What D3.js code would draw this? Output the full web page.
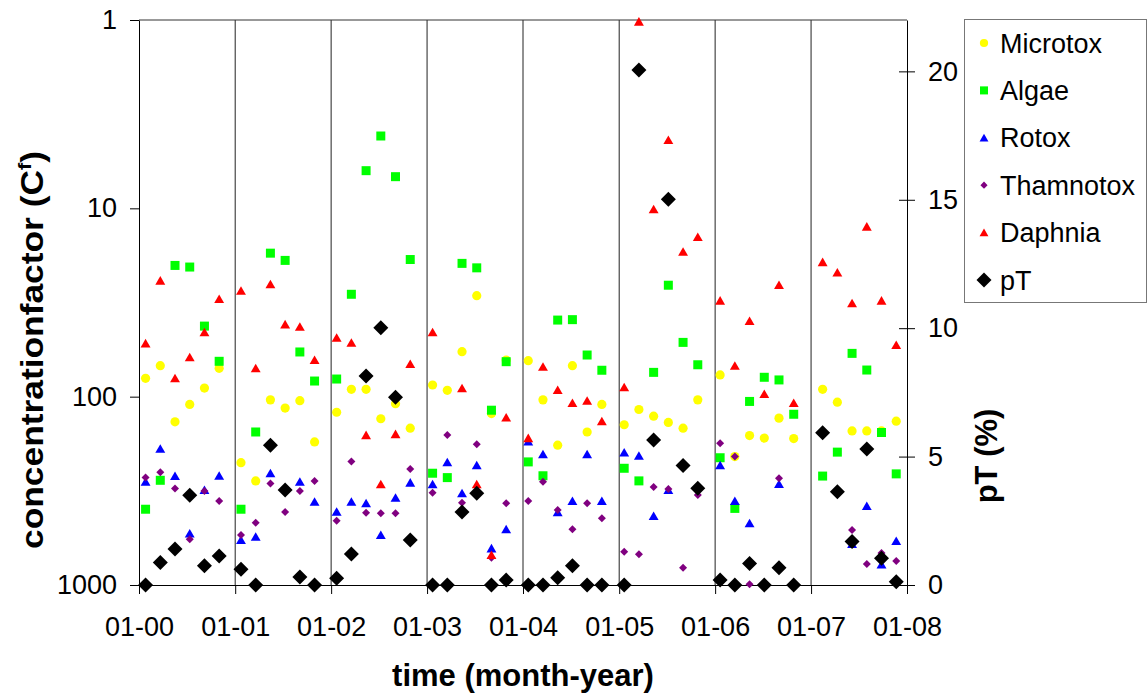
<!DOCTYPE html>
<html>
<head>
<meta charset="utf-8">
<script src="https://cdn.jsdelivr.net/npm/d3@7"></script>
<style>
  html, body { margin: 0; padding: 0; background: #fff; }
  svg { display: block; font-family: "Liberation Sans", Arial, Helvetica, sans-serif; }
</style>
</head>
<body>
<svg id="chart" width="1147" height="693"></svg>
<script>
// Sampling dates: six samples a year, eight weeks apart
const sampleDates = [
  "2000-01-26","2000-03-22","2000-05-17","2000-07-12","2000-09-06","2000-11-01",
  "2001-01-23","2001-03-20","2001-05-15","2001-07-10","2001-09-04","2001-10-30",
  "2002-01-22","2002-03-19","2002-05-14","2002-07-09","2002-09-03","2002-10-29",
  "2003-01-22","2003-03-19","2003-05-14","2003-07-09","2003-09-03","2003-10-29",
  "2004-01-21","2004-03-17","2004-05-12","2004-07-07","2004-09-01","2004-10-27",
  "2005-01-20","2005-03-17","2005-05-12","2005-07-07","2005-09-01","2005-10-27",
  "2006-01-20","2006-03-17","2006-05-12","2006-07-07","2006-09-01","2006-10-27",
  "2007-02-14","2007-04-11","2007-06-06","2007-08-01","2007-09-26","2007-11-21"
];

// Concentration factors (Cf) per bioassay, one value per sampling date
const microtox = [
  79.9, 68.5, 136, 110, 90, 70.7,
  224, 280, 104, 115, 105, 174,
  121, 91.4, 91.4, 131, 109, 147,
  86.7, 92.5, 57.7, 29.1, 123, 63.9,
  64.4, 104, 181, 68.5, 154, 110,
  141, 117, 127, 137, 147, 104,
  76.7, 208, 161, 166, 130, 167,
  91.4, 107, 152, 152, 152, 135
];
const algae = [
  396, 278, 20.1, 20.5, 42.2, 64.9,
  396, 154, 17.3, 18.9, 57.9, 82.6,
  80.6, 28.6, 6.31, 4.13, 6.79, 18.7,
  255, 269, 19.6, 20.7, 118, 65.2,
  222, 263, 39.2, 39.0, 60.1, 72.4,
  240, 280, 74.3, 25.6, 51.5, 67.7,
  211, 392, 106, 78.9, 81.5, 124,
  264, 197, 58.9, 72.2, 155, 257
];
const rotox = [
  283, 189, 264, 532, 313, 263,
  577, 554, 255, null, 283, 361,
  408, 361, 368, 543, 344, 286,
  292, 223, 326, 231, 639, 506,
  173, 202, 411, 358, 202, 358,
  198, 206, 430, 313, null, null,
  231, 358, 470, null, 291, null,
  null, null, 606, 381, 777, 584
];
const thamnotox = [
  269, 252, 307, 572, 317, 358,
  543, 467, 289, 410, 317, 280,
  456, 221, 413, 416, 416, 242,
  324, 160, 366, 179, 716, 368,
  358, 283, 400, 506, 368, 442,
  666, 687, 302, 309, 810, 333,
  177, 208, 992, null, 271, null,
  null, null, 511, 774, 676, 746
];
const daphnia = [
  52.1, 24.2, 79.9, 61.8, 45.5, 30.3,
  27.4, 70.7, 25.3, 41.3, 42.5, 63.9,
  48.6, 51.7, 160, 292, 158, 67.1,
  45.5, null, 90.3, 292, 693, 129,
  166, 69.3, 92.2, 108, 105, 135,
  89.2, 1.02, 10.1, 4.34, 17.0, 14.2,
  30.9, 68.5, 39.6, 96.8, 25.5, 108,
  19.3, 21.9, 31.9, 12.5, 30.9, 53.2
];
// pT (%) on the secondary axis
const pT = [
  0, 0.88, 1.40, 3.49, 0.75, 1.13,
  0.61, 0, 5.44, 3.70, 0.31, 0,
  0.26, 1.21, 8.14, 10.02, 7.31, 1.75,
  0, 0, 2.84, 3.57, 0, 0.19,
  0, 0, 0.28, 0.75, 0, 0,
  0, 20.05, 5.65, 15.02, 4.65, 3.77,
  0.19, 0, 0.84, 0, 0.67, 0,
  5.93, 3.63, 1.69, 5.30, 1.04, 0.13
];

const seriesNames = ["Microtox", "Algae", "Rotox", "Thamnotox", "Daphnia", "pT"];
const xTickLabels = ["01-00","01-01","01-02","01-03","01-04","01-05","01-06","01-07","01-08"];
const cfTicks = [1, 10, 100, 1000];
const ptTicks = [0, 5, 10, 15, 20];

// ---- layout ----
const plot = { left: 139, right: 907, top: 20, bottom: 585 };
const svg = d3.select("#chart");

const parseDate = d3.timeParse("%Y-%m-%d");
const parseTick = d3.timeParse("%m-%y");
const dates = sampleDates.map(parseDate);
const tickDates = xTickLabels.map(parseTick);

const x = d3.scaleTime()
  .domain([tickDates[0], tickDates[tickDates.length - 1]])
  .range([plot.left, plot.right]);
const yCf = d3.scaleLog().domain([1, 1000]).range([plot.top, plot.bottom]);
const yPt = d3.scaleLinear().domain([0, 22]).range([plot.bottom, plot.top]);

// ---- marker shapes ----
const triangle = {
  draw(ctx, size) {
    const w = Math.sqrt(size);
    ctx.moveTo(0, -w * 0.5);
    ctx.lineTo(w * 0.55, w * 0.45);
    ctx.lineTo(-w * 0.55, w * 0.45);
    ctx.closePath();
  }
};
const diamond = {
  draw(ctx, size) {
    const r = Math.sqrt(size) / 2;
    ctx.moveTo(0, -r);
    ctx.lineTo(r, 0);
    ctx.lineTo(0, r);
    ctx.lineTo(-r, 0);
    ctx.closePath();
  }
};

const styles = {
  Microtox:  { values: microtox,  color: "#FFFF00", type: d3.symbolCircle, size: Math.PI * 4.6 * 4.6, y: yCf },
  Algae:     { values: algae,     color: "#00FF00", type: d3.symbolSquare, size: 81,  y: yCf },
  Rotox:     { values: rotox,     color: "#0000FF", type: triangle,        size: 81,  y: yCf },
  Thamnotox: { values: thamnotox, color: "#800080", type: diamond,         size: 64,  y: yCf },
  Daphnia:   { values: daphnia,   color: "#FF0000", type: triangle,        size: 81,  y: yCf },
  pT:        { values: pT,        color: "#000000", type: diamond,         size: 225, y: yPt }
};

// ---- year gridlines and frame ----
svg.append("g")
  .selectAll("line")
  .data(tickDates.slice(1, -1))
  .join("line")
  .attr("x1", d => x(d)).attr("x2", d => x(d))
  .attr("y1", plot.top).attr("y2", plot.bottom)
  .attr("stroke", "#222").attr("stroke-width", 1);

svg.append("line")
  .attr("x1", plot.left).attr("x2", plot.right)
  .attr("y1", plot.top).attr("y2", plot.top)
  .attr("stroke", "#333").attr("stroke-width", 1);

// ---- axes ----
const tickFont = "27px";

const gLeft = svg.append("g")
  .attr("transform", `translate(${plot.left},0)`)
  .call(d3.axisLeft(yCf).tickValues(cfTicks).tickFormat(d3.format("d"))
    .tickSize(9).tickSizeOuter(0).tickPadding(13));

const gBottom = svg.append("g")
  .attr("transform", `translate(0,${plot.bottom})`)
  .call(d3.axisBottom(x).tickValues(tickDates).tickFormat((d, i) => xTickLabels[i])
    .tickSize(9).tickSizeOuter(0).tickPadding(23));

const gRight = svg.append("g")
  .attr("transform", `translate(${plot.right},0)`)
  .call(d3.axisRight(yPt).tickValues(ptTicks).tickFormat(d3.format("d"))
    .tickSize(8).tickSizeOuter(0).tickPadding(13));
gRight.selectAll(".tick line").attr("x1", -8).attr("x2", 8);

[gLeft, gBottom, gRight].forEach(g => {
  g.selectAll("text").attr("font-size", tickFont).attr("fill", "#000")
    .attr("font-family", "\"Liberation Sans\", Arial, sans-serif");
  g.selectAll("line, path").attr("stroke", "#000").attr("stroke-width", 1);
});

// ---- data points ----
const marks = svg.append("g");
seriesNames.forEach(name => {
  const s = styles[name];
  const pts = dates.map((d, i) => ({ d, v: s.values[i] })).filter(p => p.v != null);
  marks.append("g")
    .selectAll("path")
    .data(pts)
    .join("path")
    .attr("transform", p => `translate(${x(p.d)},${s.y(p.v)})`)
    .attr("d", d3.symbol(s.type, s.size))
    .attr("fill", s.color);
});

// ---- axis titles ----
const titleFont = "31px";
const leftTitle = svg.append("text")
  .attr("transform", "translate(43,350) rotate(-90) scale(1.14,1)")
  .attr("text-anchor", "middle")
  .attr("font-size", titleFont).attr("font-weight", "bold");
leftTitle.append("tspan").text("concentrationfactor (C");
leftTitle.append("tspan").attr("font-size", "19px").attr("dy", "-12").text("f");
leftTitle.append("tspan").attr("dy", "12").text(")");

svg.append("text")
  .attr("transform", "translate(997,456) rotate(-90)")
  .attr("text-anchor", "middle")
  .attr("font-size", titleFont).attr("font-weight", "bold")
  .text("pT (%)");

svg.append("text")
  .attr("x", (plot.left + plot.right) / 2).attr("y", 686)
  .attr("text-anchor", "middle")
  .attr("font-size", titleFont).attr("font-weight", "bold")
  .text("time (month-year)");

// ---- legend ----
const legend = svg.append("g");
legend.append("rect")
  .attr("x", 964.5).attr("y", 19.5).attr("width", 182).attr("height", 283)
  .attr("fill", "#fff").attr("stroke", "#777").attr("stroke-width", 1);

const legendY = d3.scalePoint().domain(seriesNames).range([43, 280]);
const rows = legend.selectAll("g.row").data(seriesNames).join("g")
  .attr("transform", n => `translate(984,${legendY(n)})`);
rows.append("path")
  .attr("d", n => d3.symbol(styles[n].type, n === "pT" ? 225 : styles[n].size * 0.8)())
  .attr("fill", n => styles[n].color);
rows.append("text")
  .attr("x", 16).attr("y", 9.5)
  .attr("font-size", tickFont)
  .text(n => n);
</script>
</body>
</html>
